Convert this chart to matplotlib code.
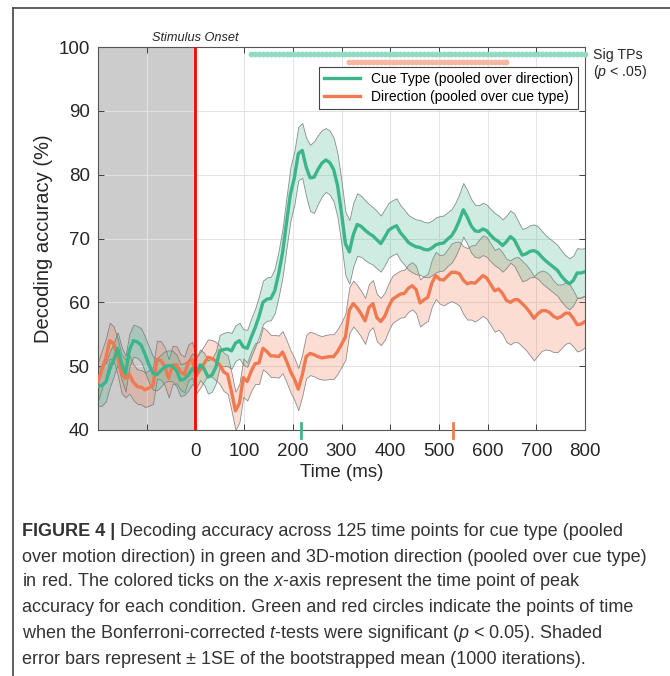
import matplotlib
matplotlib.use("Agg")
import matplotlib.pyplot as plt
import numpy as np

# 125 time points from -200 to 800 ms
time_ms = np.linspace(-200, 800, 125)

# decoding accuracy (%)
cue_mean = [
    46.8, 47.0, 47.5, 49.5, 51.0, 52.8, 50.5, 48.8, 52.5, 54.0,
    53.8, 53.3, 51.8, 50.2, 48.9, 48.7, 49.3, 49.9, 50.1, 50.0,
    49.3, 47.8, 48.0, 48.6, 49.6, 49.0, 50.2, 49.6, 48.3, 48.6,
    49.8, 52.4, 52.6, 52.7, 52.4, 53.6, 54.0, 53.0, 52.8, 54.5,
    56.0, 57.8, 60.0, 60.5, 60.6, 61.8, 64.5, 67.8, 72.5, 77.0,
    79.5, 83.3, 83.8, 81.2, 79.5, 79.6, 80.8, 81.8, 82.3, 81.9,
    80.8, 78.3, 74.0, 69.2, 67.9, 70.6, 72.2, 71.9, 71.3, 70.8,
    70.4, 69.8, 69.2, 70.2, 71.3, 71.7, 72.0, 70.9, 70.2, 69.4,
    69.0, 68.7, 68.6, 68.3, 68.2, 68.5, 69.0, 69.2, 69.3, 69.9,
    70.4, 71.4, 72.8, 74.5, 73.4, 72.0, 71.2, 71.1, 71.5, 71.2,
    70.5, 69.9, 69.5, 68.9, 69.5, 70.3, 69.8, 68.6, 67.4, 67.6,
    68.0, 68.1, 67.8, 67.1, 66.5, 66.0, 65.5, 65.0, 64.1, 63.4,
    62.9, 63.4, 64.6, 64.6, 64.8,
]
cue_se = [
    3.0, 3.2, 3.0, 2.8, 2.6, 2.5, 2.6, 2.8, 2.6, 2.5,
    2.5, 2.6, 2.8, 2.8, 2.6, 2.5, 2.5, 2.4, 2.4, 2.4,
    2.5, 2.5, 2.5, 2.4, 2.4, 2.4, 2.4, 2.5, 2.6, 2.6,
    2.5, 2.5, 2.6, 2.7, 2.8, 2.8, 2.8, 2.8, 2.9, 3.0,
    3.0, 3.2, 3.4, 3.4, 3.4, 3.5, 3.6, 3.8, 4.0, 4.2,
    4.2, 4.2, 4.3, 4.6, 5.2, 5.6, 5.4, 5.2, 5.0, 5.0,
    5.0, 5.0, 5.0, 5.0, 5.0, 5.0, 4.9, 4.8, 4.7, 4.6,
    4.5, 4.5, 4.4, 4.4, 4.3, 4.3, 4.3, 4.3, 4.3, 4.3,
    4.3, 4.3, 4.3, 4.3, 4.3, 4.3, 4.3, 4.3, 4.3, 4.2,
    4.2, 4.2, 4.2, 4.2, 4.2, 4.2, 4.1, 4.1, 4.1, 4.1,
    4.1, 4.1, 4.1, 4.1, 4.1, 4.1, 4.1, 4.1, 4.1, 4.1,
    4.1, 4.1, 4.1, 4.1, 4.0, 4.0, 4.0, 4.0, 4.0, 4.0,
    4.0, 3.9, 3.9, 3.8, 3.7,
]
dir_mean = [
    47.6, 49.5, 51.3, 54.0, 53.5, 51.5, 48.8, 48.1, 48.7, 47.5,
    46.8, 46.7, 46.3, 46.6, 47.0, 51.0, 50.9, 50.0, 48.1, 50.2,
    50.2, 49.1, 48.7, 50.6, 51.0, 48.5, 49.4, 50.4, 51.4, 51.2,
    50.8, 50.2, 49.1, 48.7, 46.0, 43.0, 44.2, 48.2, 47.6, 49.2,
    50.4, 50.5, 52.8, 52.3, 51.6, 51.6, 51.5, 52.2, 50.8, 49.2,
    48.0, 46.4, 48.6, 51.5, 52.0, 51.8, 51.5, 51.3, 51.4, 51.5,
    51.5, 52.3, 53.4, 54.6, 58.8, 59.8, 59.1, 58.2, 57.1, 59.2,
    59.8, 57.6, 57.0, 57.8, 59.3, 60.5, 60.9, 61.3, 61.4, 62.2,
    62.6, 62.0, 59.9, 60.4, 60.8, 63.0, 64.2, 63.6, 63.5, 64.1,
    64.7, 64.7, 64.5, 63.5, 62.9, 63.1, 63.0, 63.6, 64.2, 63.8,
    62.8, 61.8, 62.1, 61.4, 60.3, 60.0, 60.4, 60.4, 59.8, 59.2,
    58.4, 57.5, 58.2, 58.7, 58.7, 58.4, 57.8, 57.5, 57.8, 58.3,
    58.3, 57.5, 56.5, 56.6, 57.0,
]
dir_se = [
    3.0, 3.0, 3.0, 2.8, 2.7, 2.8, 3.0, 3.0, 3.0, 2.8,
    2.7, 2.7, 2.7, 2.8, 2.9, 3.0, 3.0, 3.0, 3.0, 3.0,
    2.9, 2.8, 2.8, 2.8, 2.8, 2.8, 2.8, 2.8, 2.8, 2.9,
    3.0, 3.0, 3.0, 3.0, 3.0, 3.0, 3.0, 3.0, 3.0, 3.1,
    3.2, 3.3, 3.3, 3.3, 3.3, 3.3, 3.3, 3.3, 3.3, 3.3,
    3.3, 3.3, 3.3, 3.4, 3.4, 3.4, 3.4, 3.4, 3.5, 3.5,
    3.5, 3.5, 3.5, 3.6, 3.6, 3.6, 3.6, 3.6, 3.6, 3.7,
    3.7, 3.7, 3.7, 3.7, 3.7, 3.7, 3.7, 3.7, 3.7, 3.7,
    3.7, 3.7, 3.7, 3.7, 3.7, 3.7, 3.7, 3.8, 4.0, 4.2,
    4.5, 4.8, 5.0, 5.3, 5.6, 5.8, 6.0, 6.2, 6.3, 6.4,
    6.4, 6.4, 6.4, 6.4, 6.5, 6.6, 6.6, 6.7, 6.7, 6.7,
    6.7, 6.6, 6.5, 6.3, 6.1, 5.9, 5.6, 5.3, 5.0, 4.8,
    4.6, 4.4, 4.2, 4.1, 4.0,
]

# significant time points (indices into time_ms) and peak times
cue_sig = list(range(39, 125))
dir_sig = list(range(64, 105))
cue_peak_ms = 217
dir_peak_ms = 528

legend_labels = ["Cue Type (pooled over direction)", "Direction (pooled over cue type)"]
xtick_vals = [-100, 0, 100, 200, 300, 400, 500, 600, 700, 800]
xtick_labels = ["", "0", "100", "200", "300", "400", "500", "600", "700", "800"]
ytick_vals = [40, 50, 60, 70, 80, 90, 100]

caption_lines = [
    " Decoding accuracy across 125 time points for cue type (pooled",
    "over motion direction) in green and 3D-motion direction (pooled over cue type)",
    "in red. The colored ticks on the $x$-axis represent the time point of peak",
    "accuracy for each condition. Green and red circles indicate the points of time",
    "when the Bonferroni-corrected $t$-tests were significant ($p$ < 0.05). Shaded",
    "error bars represent \u00b1 1SE of the bootstrapped mean (1000 iterations).",
]

green = "#3db58a"
red = "#ef7a52"
ink = "#262626"

plt.rcParams["font.family"] = ["Liberation Sans", "DejaVu Sans"]
plt.rcParams["mathtext.fontset"] = "custom"
plt.rcParams["mathtext.it"] = "Liberation Sans:italic"
plt.rcParams["mathtext.rm"] = "Liberation Sans"

fig = plt.figure(figsize=(6.7, 6.76), dpi=100)
ax = fig.add_axes([98 / 670, 1 - 430 / 676, 487 / 670, 383 / 676])

t = time_ms
cm, cs = np.array(cue_mean), np.array(cue_se)
dm, ds = np.array(dir_mean), np.array(dir_se)

# baseline period
ax.axvspan(-200, 0, color="#cccccc", zorder=0.2, lw=0)

ax.fill_between(t, dm - ds, dm + ds, facecolor=(0.94, 0.48, 0.32, 0.25),
                edgecolor=(0.45, 0.45, 0.45, 0.8), linewidth=0.6, zorder=2)
ax.fill_between(t, cm - cs, cm + cs, facecolor=(0.24, 0.71, 0.54, 0.25),
                edgecolor=(0.45, 0.45, 0.45, 0.8), linewidth=0.6, zorder=2)
ax.plot(t, dm, color=red, lw=2.4, zorder=3, label=legend_labels[1])
ax.plot(t, cm, color=green, lw=2.4, zorder=3, label=legend_labels[0])

ax.axvline(0, color="#ff0000", lw=2, zorder=5)

# significance dots
ax.plot(t[cue_sig], np.full(len(cue_sig), 98.9), "o", ms=4.2, mec="none",
        color="#93dbc0", clip_on=False, zorder=4)
ax.plot(t[dir_sig], np.full(len(dir_sig), 97.6), "o", ms=4.2, mec="none",
        color="#f7b7a0", clip_on=False, zorder=4)

# peak ticks on x-axis
ax.plot([cue_peak_ms, cue_peak_ms], [38.8, 41.1], color=green, lw=2, clip_on=False, zorder=6)
ax.plot([dir_peak_ms, dir_peak_ms], [38.8, 41.1], color=red, lw=2, clip_on=False, zorder=6)

ax.set_xlim(-200, 800)
ax.set_ylim(40, 100)
ax.set_xticks(xtick_vals)
ax.set_xticklabels(xtick_labels)
ax.set_yticks(ytick_vals)
ax.set_axisbelow(True)
ax.grid(True, color="#e3e3e3", lw=0.7)
ax.tick_params(direction="in", top=True, right=True, length=4, width=0.6,
               labelsize=13.5, colors=ink)
ax.tick_params(axis="x", pad=9)
ax.tick_params(axis="y", pad=6)
for s in ax.spines.values():
    s.set_color("#555555")
    s.set_linewidth(0.8)

ax.set_xlabel("Time (ms)", fontsize=13.5, color=ink, labelpad=3)
ax.set_ylabel("Decoding accuracy (%)", fontsize=14.5, color=ink, labelpad=4)

h, l = ax.get_legend_handles_labels()
leg = ax.legend(h[::-1], l[::-1], loc="upper right", bbox_to_anchor=(0.986, 0.947),
                borderaxespad=0, fontsize=10, fancybox=False, edgecolor="#444444",
                framealpha=1, handlelength=2.6, borderpad=0.35, labelspacing=0.3)
leg.get_frame().set_linewidth(0.8)
leg.set_zorder(7)

ax.text(0, 1.009, "Stimulus Onset", transform=ax.get_xaxis_transform(),
        ha="center", va="bottom", fontsize=9.2, style="italic", color=ink)
ax.text(1.016, 0.979, "Sig TPs", transform=ax.transAxes, ha="left", va="center",
        fontsize=10.2, color=ink)
ax.text(1.016, 0.935, "($p$ < .05)", transform=ax.transAxes, ha="left", va="center",
        fontsize=10.2, color=ink)

# figure frame (top and left edges)
fig.add_artist(plt.Line2D([13 / 670, 1], [1 - 8 / 676, 1 - 8 / 676], color="#444444", lw=1.2))
fig.add_artist(plt.Line2D([13 / 670, 13 / 670], [1 - 8 / 676, 0], color="#444444", lw=1.2))

# caption
cap_font = ["Liberation Sans", "DejaVu Sans"]
cap_size = 13
cap_x = 22 / 670
cap_y = [531, 557, 582, 608, 634, 659]
fig.canvas.draw()
renderer = fig.canvas.get_renderer()
bold = fig.text(cap_x, 1 - cap_y[0] / 676, "FIGURE 4 |", fontsize=cap_size, weight="bold",
                family=cap_font, va="center", color="#333333")
bb = bold.get_window_extent(renderer=renderer)
fig.text(bb.x1 / fig.bbox.width, 1 - cap_y[0] / 676, caption_lines[0], fontsize=cap_size,
         family=cap_font, va="center", color="#333333")
for line, y in zip(caption_lines[1:], cap_y[1:]):
    fig.text(cap_x, 1 - y / 676, line, fontsize=cap_size, family=cap_font,
             va="center", color="#333333")

fig.savefig("out.png", dpi=100)
